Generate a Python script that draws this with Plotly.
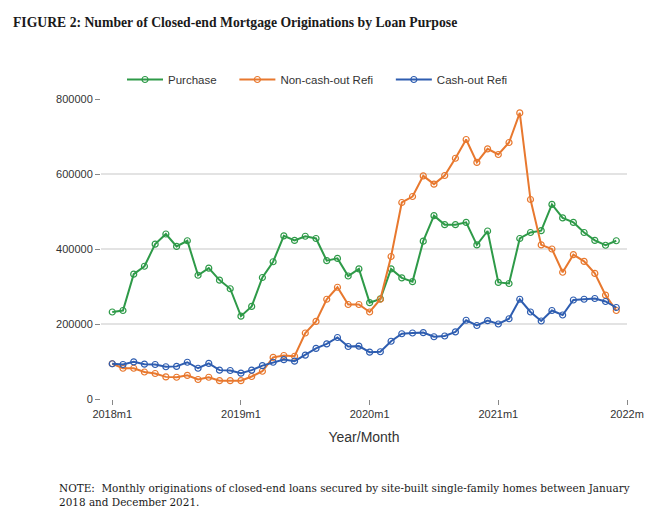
import plotly.graph_objects as go

months = list(range(48))
tick_vals = [0, 12, 24, 36, 48]
tick_text = ["2018m1", "2019m1", "2020m1", "2021m1", "2022m"]

purchase = [232000, 236000, 333000, 354000, 413000, 440000, 407000, 422000, 330000, 349000, 317000, 294000,
            221000, 247000, 324000, 366000, 435000, 423000, 434000, 428000, 369000, 375000, 328000, 347000,
            257000, 267000, 347000, 323000, 313000, 421000, 489000, 465000, 465000, 471000, 411000, 448000,
            311000, 308000, 428000, 444000, 449000, 519000, 483000, 471000, 444000, 423000, 410000, 422000]

non_cashout = [94000, 82000, 82000, 72000, 68000, 59000, 58000, 63000, 52000, 58000, 49000, 49000,
               49000, 60000, 74000, 111000, 116000, 114000, 176000, 207000, 266000, 298000, 252000, 252000,
               232000, 266000, 380000, 524000, 540000, 595000, 573000, 596000, 642000, 692000, 631000, 667000,
               652000, 684000, 763000, 532000, 411000, 400000, 338000, 385000, 367000, 335000, 277000, 236000]

cashout = [94000, 92000, 99000, 93000, 92000, 86000, 87000, 98000, 82000, 95000, 77000, 76000,
           69000, 77000, 89000, 98000, 105000, 101000, 117000, 135000, 147000, 164000, 140000, 141000,
           125000, 126000, 154000, 174000, 176000, 177000, 166000, 168000, 179000, 210000, 196000, 209000,
           200000, 214000, 266000, 232000, 208000, 236000, 224000, 264000, 266000, 268000, 260000, 244000]

NB = "\u00a0"
series = [
    ("Purchase" + NB * 4, purchase, "#2E9A48"),
    ("Non-cash-out Refi" + NB * 4, non_cashout, "#E8782E"),
    ("Cash-out Refi", cashout, "#2E5DB0"),
]

fig = go.Figure()
for name, vals, col in series:
    fig.add_trace(go.Scatter(
        x=months, y=vals, name=name, mode="lines+markers",
        line=dict(color=col, width=2),
        marker=dict(symbol="circle-open", size=6, color=col, line=dict(width=1.2, color=col)),
    ))

PW, PH = 526, 300
fig.update_layout(
    width=645, height=510,
    paper_bgcolor="white", plot_bgcolor="white",
    margin=dict(l=93, r=26, t=91, b=119, autoexpand=False),
    font=dict(family="Liberation Sans, Arial, sans-serif", size=11, color="#333333"),
    showlegend=True,
    legend=dict(orientation="h", x=21 / PW, xanchor="left", y=1 + 5 / PH, yanchor="bottom",
                font=dict(size=11.5, color="#333333"), itemwidth=36,
                bgcolor="rgba(0,0,0,0)"),
    xaxis=dict(range=[-1.05, 48], tickmode="array", tickvals=tick_vals, ticktext=tick_text,
               showgrid=False, zeroline=False, showline=False, automargin=False,
               ticks="outside", ticklen=5, tickcolor="#888888", tickwidth=1,
               tickfont=dict(size=11, color="#333333"),
               title=dict(text="Year/Month", font=dict(size=14, color="#333333"), standoff=12)),
    yaxis=dict(range=[0, 800000], tickmode="array", tickvals=[0, 200000, 400000, 600000, 800000],
               ticktext=["0", "200000", "400000", "600000", "800000"], automargin=False,
               showgrid=True, gridcolor="#E3E3E3", gridwidth=1.5, zeroline=False, showline=False,
               ticks="outside", ticklen=5, tickcolor="#888888", tickwidth=1,
               tickfont=dict(size=11, color="#333333")),
)

fig.add_annotation(
    text="<b>FIGURE 2: Number of Closed-end Mortgage Originations by Loan Purpose</b>",
    xref="paper", yref="paper", x=-90 / PW, y=1 + 77 / PH, xanchor="left", yanchor="middle",
    showarrow=False, font=dict(family="Liberation Serif, Georgia, serif", size=13.7, color="#1a1a1a"),
)
fig.add_annotation(
    text="NOTE:  Monthly originations of closed-end loans secured by site-built single-family homes between January<br>2018 and December 2021.",
    xref="paper", yref="paper", x=-44 / PW, y=-(480 - 399) / PH, xanchor="left", yanchor="top", align="left",
    showarrow=False, font=dict(family="DejaVu Serif, serif", size=10.45, color="#1a1a1a"),
)

fig.write_html("out.html")
